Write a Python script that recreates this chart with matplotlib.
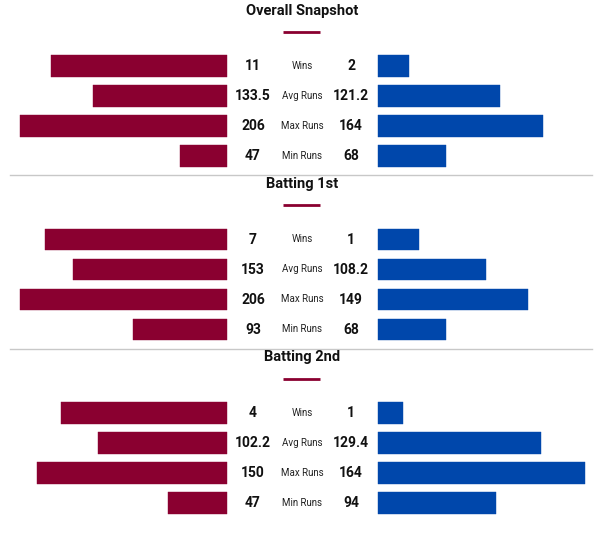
import matplotlib
matplotlib.use("Agg")
import matplotlib.pyplot as plt
from matplotlib import font_manager

# ---------------- data ----------------
sections = ["Overall Snapshot", "Batting 1st", "Batting 2nd"]
metrics = ["Wins", "Avg Runs", "Max Runs", "Min Runs"]

left_wins = [11, 7, 4]
right_wins = [2, 1, 1]

left_avg = [133.5, 153, 102.2]
right_avg = [121.2, 108.2, 129.4]
left_max = [206, 206, 150]
right_max = [164, 149, 164]
left_min = [47, 93, 47]
right_min = [68, 68, 94]

left_labels_avg = ["133.5", "153", "102.2"]
right_labels_avg = ["121.2", "108.2", "129.4"]

MAROON = "#8a0030"
BLUE = "#0047ab"

# ---------------- fonts ----------------
avail = {f.name for f in font_manager.fontManager.ttflist}
narrow = "Liberation Sans Narrow" if "Liberation Sans Narrow" in avail else "Roboto"
plt.rcParams["font.family"] = [narrow, "DejaVu Sans"]

W, H = 607, 537
fig = plt.figure(figsize=(W / 100, H / 100), dpi=100)
ax = fig.add_axes([0, 0, 1, 1])
ax.set_xlim(0, W)
ax.set_ylim(H, 0)
ax.axis("off")

LEFT_END = 227
RIGHT_START = 377.5
FULL = 207.5        # length of the longest bar
SEC_STEP = 173.5
BAR_H = 21.5

def wins_shares(i):
    # bat-1st wins of one side are paired with bat-2nd wins of the other
    if i == 0:
        l_den = left_wins[0] + right_wins[0]
        r_den = left_wins[0] + right_wins[0]
    elif i == 1:
        l_den = left_wins[1] + right_wins[2]
        r_den = right_wins[1] + left_wins[2]
    else:
        l_den = left_wins[2] + right_wins[1]
        r_den = right_wins[2] + left_wins[1]
    return left_wins[i] / l_den, right_wins[i] / r_den

for i, name in enumerate(sections):
    y0 = i * SEC_STEP
    ax.text(302, y0 + 10.5, name, ha="center", va="center", fontsize=10.5,
            fontweight="bold", color="#111111")
    ax.plot([283, 320], [y0 + 31.5, y0 + 31.5], color=MAROON, lw=2,
            solid_capstyle="butt")

    lw_share, rw_share = wins_shares(i)
    run_max = max(left_avg[i], right_avg[i], left_max[i], right_max[i],
                  left_min[i], right_min[i])
    lvals = [lw_share * FULL,
             left_avg[i] / run_max * FULL,
             left_max[i] / run_max * FULL,
             left_min[i] / run_max * FULL]
    rvals = [rw_share * FULL,
             right_avg[i] / run_max * FULL,
             right_max[i] / run_max * FULL,
             right_min[i] / run_max * FULL]
    ltxt = [str(left_wins[i]), left_labels_avg[i], str(left_max[i]), str(left_min[i])]
    rtxt = [str(right_wins[i]), right_labels_avg[i], str(right_max[i]), str(right_min[i])]

    ys = [y0 + 66 + 30 * k for k in range(4)]
    ax.barh(ys, lvals, left=[LEFT_END - v for v in lvals], height=BAR_H,
            color=MAROON, edgecolor=MAROON, linewidth=0.3, joinstyle="round")
    ax.barh(ys, rvals, left=RIGHT_START, height=BAR_H,
            color=BLUE, edgecolor=BLUE, linewidth=0.3, joinstyle="round")
    for k, y in enumerate(ys):
        ax.text(253, y, ltxt[k], ha="center", va="center", fontsize=10,
                fontweight="bold", color="#111111")
        ax.text(302, y, metrics[k], ha="center", va="center", fontsize=7,
                color="#222222")
        ax.text(351, y, rtxt[k], ha="center", va="center", fontsize=10,
                fontweight="bold", color="#111111")

    if i < 2:
        ys_sep = y0 + 175
        ax.plot([10, 592], [ys_sep, ys_sep], color="#c8c8c8", lw=1)

fig.savefig("out.png", dpi=100, facecolor="white")
